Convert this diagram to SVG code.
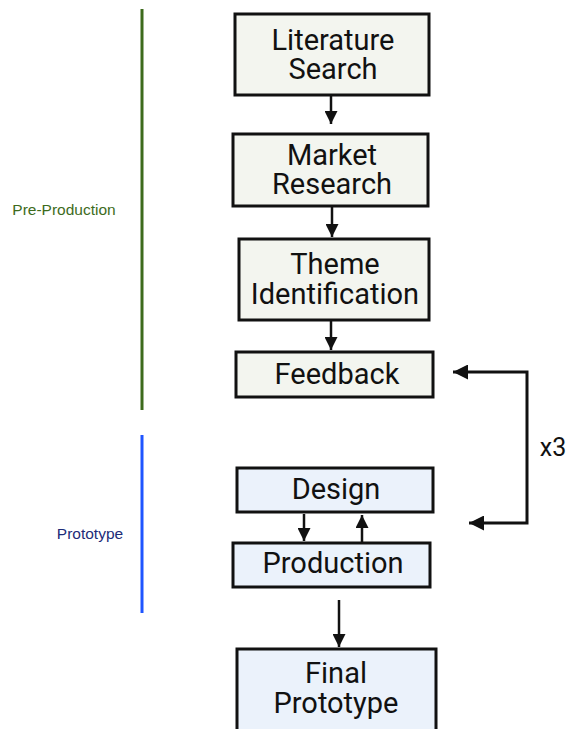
<svg xmlns="http://www.w3.org/2000/svg" width="568" height="729" viewBox="0 0 568 729">
<defs>
<style>
.pre{fill:#f3f5ef;stroke:#111;stroke-width:3}
.pro{fill:#ebf2fb;stroke:#111;stroke-width:3}
.t{font-family:Roboto,"Liberation Sans",sans-serif;font-size:29px;fill:#111;text-anchor:middle}
.c{stroke:#111;stroke-width:2.5;fill:none}
.l{stroke:#111;stroke-width:3;fill:none}
.lab{font-family:"Liberation Sans",Arial,sans-serif;font-size:15.5px}
</style>
<marker id="ah" viewBox="0 0 10 10" refX="10" refY="5" markerWidth="5.2" markerHeight="5.2" orient="auto" markerUnits="strokeWidth">
<path d="M0,0 L10,5 L0,10 z" fill="#111"/>
</marker>
<marker id="ah2" viewBox="0 0 10 10" refX="10" refY="5" markerWidth="5" markerHeight="5" orient="auto" markerUnits="strokeWidth">
<path d="M0,0 L10,5 L0,10 z" fill="#111"/>
</marker>
<marker id="ah2s" viewBox="0 0 10 10" refX="0" refY="5" markerWidth="5" markerHeight="5" orient="auto" markerUnits="strokeWidth">
<path d="M10,0 L0,5 L10,10 z" fill="#111"/>
</marker>
</defs>
<rect width="568" height="729" fill="#fff"/>
<g id="phases">
<line x1="142" y1="9" x2="142" y2="410" stroke="#3d6b1c" stroke-width="3"/>
<text class="lab" x="64" y="215" fill="#3d6b1c" text-anchor="middle">Pre-Production</text>
<line x1="142" y1="435" x2="142" y2="613" stroke="#1f55ff" stroke-width="3"/>
<text class="lab" x="90" y="539" fill="#1d2c78" text-anchor="middle">Prototype</text>
</g>
<g id="connectors">
<line class="c" x1="331" y1="96" x2="331" y2="124" marker-end="url(#ah)"/>
<line class="c" x1="332" y1="207" x2="332" y2="237" marker-end="url(#ah)"/>
<line class="c" x1="331" y1="321" x2="331" y2="350" marker-end="url(#ah)"/>
<line class="c" x1="304" y1="514" x2="304" y2="541" marker-end="url(#ah)"/>
<line class="c" x1="362" y1="542" x2="362" y2="515" marker-end="url(#ah)"/>
<line class="c" x1="339" y1="600" x2="339" y2="647" marker-end="url(#ah)"/>
<polyline class="l" points="469,523 527,523 527,372 453,372" marker-end="url(#ah2)" marker-start="url(#ah2s)"/>
<text x="553" y="456" font-family="Roboto,'Liberation Sans',sans-serif" font-size="25" fill="#111" text-anchor="middle">x3</text>
</g>
<g id="literature">
<rect class="pre" x="235" y="14" width="194" height="81"/>
<text class="t" x="333" y="50">Literature</text>
<text class="t" x="333" y="79">Search</text>
</g>
<g id="market">
<rect class="pre" x="233" y="134" width="195" height="72"/>
<text class="t" x="332" y="165">Market</text>
<text class="t" x="332" y="194">Research</text>
</g>
<g id="theme">
<rect class="pre" x="239" y="239" width="190" height="81"/>
<text class="t" x="335" y="274">Theme</text>
<text class="t" x="335" y="304">Identification</text>
</g>
<g id="feedback">
<rect class="pre" x="236" y="352" width="197" height="45"/>
<text class="t" x="337" y="384">Feedback</text>
</g>
<g id="design">
<rect class="pro" x="237" y="468" width="196" height="44"/>
<text class="t" x="336" y="499">Design</text>
</g>
<g id="production">
<rect class="pro" x="233" y="543" width="197" height="44"/>
<text class="t" x="333" y="573">Production</text>
</g>
<g id="final">
<rect class="pro" x="237" y="649" width="199" height="90"/>
<text class="t" x="336" y="683">Final</text>
<text class="t" x="336" y="713">Prototype</text>
</g>
</svg>
